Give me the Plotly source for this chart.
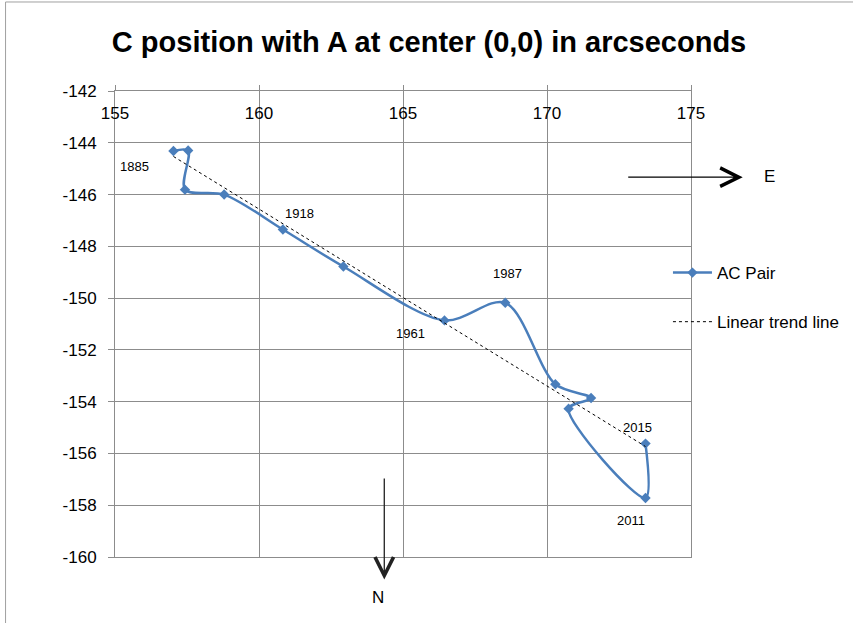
import numpy as np
import plotly.graph_objects as go

# ---- data (arcseconds) ----
x_pos = [157.03, 157.54, 157.43, 158.79, 160.83, 162.93, 166.44, 168.55, 170.29, 171.53, 170.75, 173.42, 173.42]
y_pos = [-144.32, -144.30, -145.81, -146.00, -147.35, -148.78, -150.86, -150.18, -153.33, -153.86, -154.27, -157.72, -155.62]
year_labels = ["1885", "1918", "1961", "1987", "2011", "2015"]
year_point_index = [0, 4, 6, 7, 11, 12]
x_ticks = [155, 160, 165, 170, 175]
y_ticks = [-160, -158, -156, -154, -152, -150, -148, -146, -144, -142]
y_tick_text = ["-160", "-158", "-156", "-154", "-152", "-150", "-148", "-146", "-144", "-142"]

BLUE = "#4A7EBB"
FONT = "Liberation Sans"

# linear least-squares trend line
slope, intercept = np.polyfit(x_pos, y_pos, 1)
tx = [min(x_pos), max(x_pos)]
ty = [slope * v + intercept for v in tx]

fig = go.Figure()
fig.add_trace(go.Scatter(
    x=x_pos, y=y_pos, mode="lines+markers", name="AC Pair",
    line=dict(color=BLUE, width=2.5, shape="spline", smoothing=0.9),
    marker=dict(symbol="diamond", size=8, color=BLUE),
    legendgroup="a", cliponaxis=False,
))
fig.add_trace(go.Scatter(
    x=tx, y=ty, mode="lines", name="Linear trend line",
    line=dict(color="black", width=1, dash="dot"),
    legendgroup="b",
))

# year annotations (pixel offsets from their point)
offsets = {"1885": (-39, -15), "1918": (17, 16), "1961": (-34, -13),
           "1987": (2, 29), "2011": (-15, -23), "2015": (-8, 16)}
annotations = []
for lab, idx in zip(year_labels, year_point_index):
    dx, dy = offsets[lab]
    annotations.append(dict(x=x_pos[idx], y=y_pos[idx], xref="x", yref="y",
                            text=lab, showarrow=False, xshift=dx, yshift=dy,
                            xanchor="center", yanchor="middle",
                            font=dict(family=FONT, size=13, color="black")))

# direction arrows
annotations.append(dict(x=1.0898, y=0.8151, xref="paper", yref="paper",
                        ax=-116, ay=0, axref="pixel", ayref="pixel",
                        showarrow=True, arrowhead=5, arrowsize=2.8, arrowwidth=1.3,
                        arrowcolor="black", text=""))
annotations.append(dict(x=1.1355, y=0.817, xref="paper", yref="paper", text="E",
                        xanchor="center", yanchor="middle",
                        showarrow=False, font=dict(family=FONT, size=17, color="black")))
annotations.append(dict(x=0.4675, y=-0.0485, xref="paper", yref="paper",
                        ax=0, ay=-102.6, axref="pixel", ayref="pixel",
                        showarrow=True, arrowhead=5, arrowsize=2.8, arrowwidth=1.3,
                        arrowcolor="#222222", text=""))
annotations.append(dict(x=0.4566, y=-0.0866, xref="paper", yref="paper", text="N",
                        xanchor="center", yanchor="middle",
                        showarrow=False, font=dict(family=FONT, size=17, color="black")))

fig.update_layout(
    width=853, height=623,
    margin=dict(l=115, r=162, t=90.5, b=66.3, autoexpand=False),
    paper_bgcolor="white", plot_bgcolor="white",
    title=dict(text="<b>C position with A at center (0,0) in arcseconds</b>",
               x=0.503, xanchor="center", y=0.933, yanchor="middle",
               font=dict(family=FONT, size=29, color="black")),
    showlegend=True,
    legend=dict(x=0.960, xanchor="left", y=0.648, yanchor="top",
                tracegroupgap=24, itemwidth=39, bgcolor="rgba(0,0,0,0)",
                font=dict(family=FONT, size=17, color="black")),
    annotations=annotations,
    shapes=[dict(type="rect", xref="paper", yref="paper",
                 x0=-0.19, x1=1.4, y0=-0.3, y1=1.191,
                 line=dict(color="#a0a0a0", width=1), layer="below")],
)
fig.update_xaxes(range=[155, 175], tickvals=x_ticks, side="top",
                 ticklabelposition="inside", ticklabelstandoff=17,
                 ticklabeloverflow="allow", automargin=False,
                 showgrid=True, gridcolor="#8c8c8c", gridwidth=1,
                 showline=True, linecolor="#8c8c8c", mirror=True,
                 ticks="outside", ticklen=5, tickcolor="#8c8c8c",
                 zeroline=False,
                 tickfont=dict(family=FONT, size=17, color="black"))
fig.update_yaxes(range=[-160, -142], tickvals=y_ticks, ticktext=y_tick_text,
                 ticklabelstandoff=8, ticklabeloverflow="allow", automargin=False,
                 showgrid=True, gridcolor="#8c8c8c", gridwidth=1,
                 showline=True, linecolor="#8c8c8c", mirror=True,
                 ticks="outside", ticklen=6, tickcolor="#8c8c8c",
                 zeroline=False,
                 tickfont=dict(family=FONT, size=17, color="black"))

fig.write_html("out.html")
